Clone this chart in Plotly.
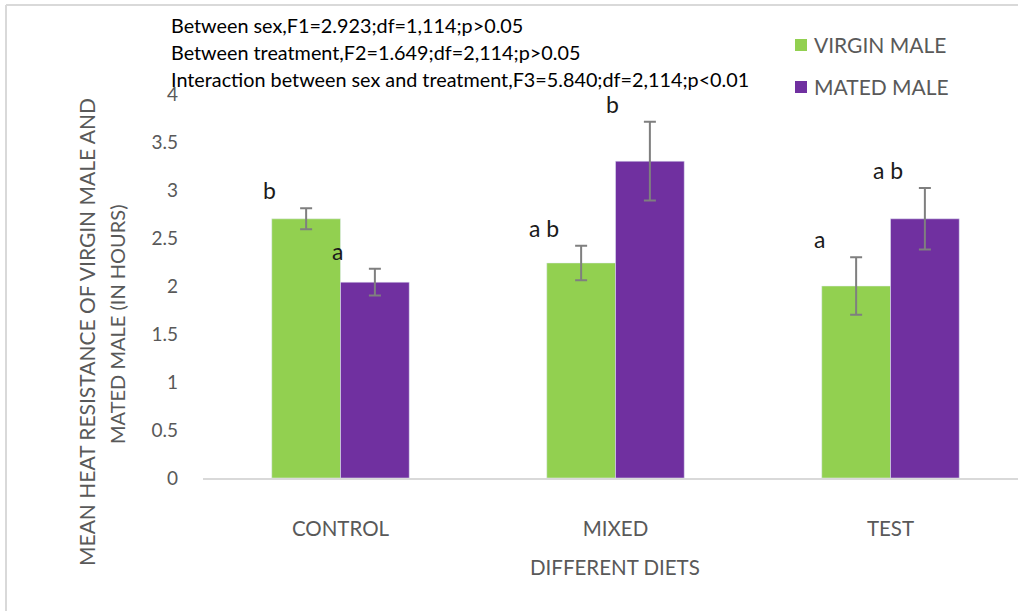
import plotly.graph_objects as go

# Mean heat resistance (hours) by diet, with standard errors
diets = ["CONTROL", "MIXED", "TEST"]
virgin_mean = [2.70, 2.24, 2.00]
virgin_err = [0.11, 0.18, 0.30]
mated_mean = [2.04, 3.30, 2.70]
mated_err = [0.14, 0.41, 0.32]
virgin_letters = ["b", "a b", "a"]
mated_letters = ["a", "b", "a b"]
stats_lines = [
    "Between sex,F1=2.923;df=1,114;p>0.05",
    "Between treatment,F2=1.649;df=2,114;p>0.05",
    "Interaction between sex and treatment,F3=5.840;df=2,114;p<0.01",
]
series_names = ["VIRGIN MALE", "MATED MALE"]
y_title_lines = ["MEAN HEAT RESISTANCE OF VIRGIN MALE AND", "MATED MALE (IN HOURS)"]
x_title = "DIFFERENT DIETS"

GREEN = "#92D050"
PURPLE = "#7030A0"
ERR = "#7F7F7F"
GREY_TXT = "#595959"
LABEL_FONT = "Lato, Open Sans, sans-serif"
BODY = "Lato, Open Sans, sans-serif"

W, H = 1018, 611
L, R, T, B = 203, 0, 94, 133
PW, PH = W - L - R, H - T - B


def px(x):
    return (x - L) / PW


def py(y):
    return (H - B - y) / PH


x_idx = list(range(len(diets)))
fig = go.Figure()
fig.add_trace(go.Bar(
    x=x_idx, y=virgin_mean, name=series_names[0], marker_color=GREEN,
    error_y=dict(type="data", array=virgin_err, color=ERR, thickness=2, width=6),
))
fig.add_trace(go.Bar(
    x=x_idx, y=mated_mean, name=series_names[1], marker_color=PURPLE,
    error_y=dict(type="data", array=mated_err, color=ERR, thickness=2, width=6),
))

annotations = []
# significance letters above each bar
bar_half = 0.125
for i in x_idx:
    for off, means, errs, letters in ((-bar_half, virgin_mean, virgin_err, virgin_letters),
                                      (bar_half, mated_mean, mated_err, mated_letters)):
        annotations.append(dict(
            x=i + off, y=means[i] + errs[i], xref="x", yref="y",
            text=letters[i], showarrow=False, xshift=-37, yshift=18,
            xanchor="center", yanchor="middle",
            font=dict(family=BODY, size=23, color="#1a1a1a"),
        ))

# ANOVA summary text
for k, line in enumerate(stats_lines):
    annotations.append(dict(
        x=px(169), y=py(25 + 27 * k), xref="paper", yref="paper",
        text=line, showarrow=False, xanchor="left", yanchor="middle",
        font=dict(family=BODY, size=19.8, color="#000000"),
    ))

# legend entries
legend_rows = [45, 87]
for name, col, cy in zip(series_names, [GREEN, PURPLE], legend_rows):
    annotations.append(dict(
        x=px(812), y=py(cy), xref="paper", yref="paper", text=name,
        showarrow=False, xanchor="left", yanchor="middle",
        font=dict(family=LABEL_FONT, size=21, color=GREY_TXT),
    ))

# axis titles
annotations.append(dict(
    x=px(86), y=py(332), xref="paper", yref="paper", text=y_title_lines[0],
    showarrow=False, textangle=-90, xanchor="center", yanchor="middle",
    font=dict(family=LABEL_FONT, size=21, color=GREY_TXT),
))
annotations.append(dict(
    x=px(117), y=py(325), xref="paper", yref="paper", text=y_title_lines[1],
    showarrow=False, textangle=-90, xanchor="center", yanchor="middle",
    font=dict(family=LABEL_FONT, size=20, color=GREY_TXT),
))
annotations.append(dict(
    x=px(615), y=py(567), xref="paper", yref="paper", text=x_title,
    showarrow=False, xanchor="center", yanchor="middle",
    font=dict(family=LABEL_FONT, size=20.5, color=GREY_TXT),
))

shapes = []
for col, cy in zip([GREEN, PURPLE], legend_rows):
    shapes.append(dict(
        type="rect", xref="paper", yref="paper",
        x0=px(795), x1=px(807), y0=py(cy + 6), y1=py(cy - 6),
        fillcolor=col, line=dict(width=0),
    ))
# outer frame
shapes.append(dict(type="line", xref="paper", yref="paper",
                   x0=px(6), x1=px(6), y0=py(5), y1=py(H + 5),
                   line=dict(color="#D9D9D9", width=2)))
shapes.append(dict(type="line", xref="paper", yref="paper",
                   x0=px(6), x1=px(W + 5), y0=py(5), y1=py(5),
                   line=dict(color="#D9D9D9", width=2)))

fig.update_layout(
    width=W, height=H,
    margin=dict(l=L, r=R, t=T, b=B, pad=0),
    paper_bgcolor="white", plot_bgcolor="white",
    barmode="group", bargap=0.5, bargroupgap=0,
    showlegend=False,
    annotations=annotations, shapes=shapes,
    xaxis=dict(
        tickmode="array", tickvals=x_idx, ticktext=diets,
        range=[-0.5, -0.5 + PW / 275.0],
        showline=True, linecolor="#D9D9D9", linewidth=2,
        showgrid=False, zeroline=False, ticks="",
        ticklabelstandoff=31,
        tickfont=dict(family=LABEL_FONT, size=20.5, color=GREY_TXT),
    ),
    yaxis=dict(
        range=[0, 4], dtick=0.5, showgrid=False, zeroline=False,
        showline=False, ticks="", ticklabelstandoff=24,
        tickfont=dict(family=LABEL_FONT, size=19, color=GREY_TXT),
    ),
)

fig.write_html("out.html")
